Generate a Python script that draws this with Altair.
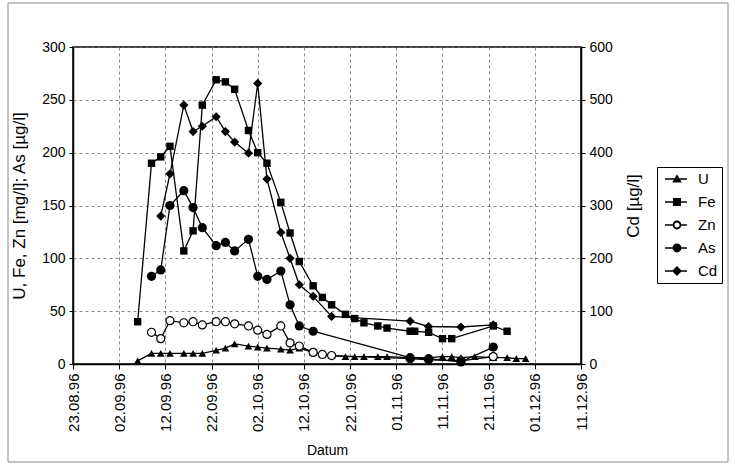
import altair as alt
import pandas as pd

series_names = ["U", "Fe", "Zn", "As", "Cd"]

u_dates = ["06.09.96", "09.09.96", "11.09.96", "13.09.96", "16.09.96", "18.09.96", "20.09.96",
           "23.09.96", "25.09.96", "27.09.96", "30.09.96", "02.10.96", "04.10.96", "07.10.96",
           "09.10.96", "11.10.96", "14.10.96", "16.10.96", "18.10.96", "21.10.96", "23.10.96",
           "25.10.96", "28.10.96", "30.10.96", "04.11.96", "08.11.96", "11.11.96", "13.11.96",
           "15.11.96", "18.11.96", "22.11.96", "25.11.96", "27.11.96", "29.11.96"]
u_values = [3, 10, 10, 10, 10, 10, 10, 13, 15, 19, 17, 16, 15, 14, 13, 15, 11, 9, 8, 7, 7,
            7, 7, 7, 6, 6, 7, 7, 6, 7, 6, 6, 5, 5]

fe_dates = ["06.09.96", "09.09.96", "11.09.96", "13.09.96", "16.09.96", "18.09.96", "20.09.96",
            "23.09.96", "25.09.96", "27.09.96", "30.09.96", "02.10.96", "04.10.96", "07.10.96",
            "09.10.96", "11.10.96", "14.10.96", "16.10.96", "18.10.96", "21.10.96", "23.10.96",
            "25.10.96", "28.10.96", "30.10.96", "04.11.96", "05.11.96", "08.11.96", "11.11.96",
            "13.11.96", "22.11.96", "25.11.96"]
fe_values = [40, 190, 196, 206, 107, 126, 245, 269, 267, 260, 221, 200, 190, 153, 124, 97, 74,
             63, 56, 47, 43, 39, 36, 34, 31, 31, 30, 24, 24, 36, 31]

zn_dates = ["09.09.96", "11.09.96", "13.09.96", "16.09.96", "18.09.96", "20.09.96", "23.09.96",
            "25.09.96", "27.09.96", "30.09.96", "02.10.96", "04.10.96", "07.10.96", "09.10.96",
            "11.10.96", "14.10.96", "16.10.96", "18.10.96", "04.11.96", "08.11.96", "15.11.96",
            "22.11.96"]
zn_values = [30, 24, 41, 39, 40, 37, 40, 40, 38, 36, 32, 28, 36, 20, 17, 11, 9, 8, 5, 4, 3, 7]

as_dates = ["09.09.96", "11.09.96", "13.09.96", "16.09.96", "18.09.96", "20.09.96", "23.09.96",
            "25.09.96", "27.09.96", "30.09.96", "02.10.96", "04.10.96", "07.10.96", "09.10.96",
            "11.10.96", "14.10.96", "04.11.96", "08.11.96", "15.11.96", "22.11.96"]
as_values = [83, 89, 150, 164, 148, 129, 112, 115, 107, 118, 83, 80, 88, 56, 36, 31, 6, 5, 2, 16]

cd_dates = ["11.09.96", "13.09.96", "16.09.96", "18.09.96", "20.09.96", "23.09.96", "25.09.96",
            "27.09.96", "30.09.96", "02.10.96", "04.10.96", "07.10.96", "09.10.96", "11.10.96",
            "14.10.96", "18.10.96", "04.11.96", "08.11.96", "15.11.96", "22.11.96"]
cd_values = [280, 360, 490, 440, 450, 468, 440, 420, 399, 531, 350, 249, 200, 150, 128, 90,
             81, 71, 70, 74]

x_ticks = ["23.08.96", "02.09.96", "12.09.96", "22.09.96", "02.10.96", "12.10.96", "22.10.96",
           "01.11.96", "11.11.96", "21.11.96", "01.12.96", "11.12.96"]
left_ticks = [0, 50, 100, 150, 200, 250, 300]
right_ticks = [0, 100, 200, 300, 400, 500, 600]


def iso(s):
    d, m, y = s.split(".")
    return f"19{y}-{m}-{d}"


def dt(s):
    d, m, y = s.split(".")
    return alt.DateTime(year=1900 + int(y), month=int(m), date=int(d), utc=True)


rows = []
for name, ds, vs in [("U", u_dates, u_values), ("Fe", fe_dates, fe_values),
                     ("Zn", zn_dates, zn_values), ("As", as_dates, as_values),
                     ("Cd", cd_dates, cd_values)]:
    for d, v in zip(ds, vs):
        rows.append({"series": name, "date": iso(d), "value": v})
df = pd.DataFrame(rows)

FONT = "Liberation Sans"

x_enc = alt.X(
    "date:T",
    scale=alt.Scale(type="utc", domain=[dt(x_ticks[0]), dt(x_ticks[-1])]),
    axis=alt.Axis(values=[dt(t) for t in x_ticks], format="%d.%m.%y", labelAngle=270,
                  title="Datum", grid=True, labelFontSize=15, titleFontSize=14,
                  tickSize=5, labelPadding=4, titlePadding=12, labelFlush=False,
                  labelOverlap=False),
)
y_left = alt.Y(
    "value:Q",
    scale=alt.Scale(domain=[0, 300], nice=False),
    axis=alt.Axis(values=left_ticks, title="U, Fe, Zn [mg/l]; As [µg/l]", grid=True,
                  labelFontSize=14, titleFontSize=17, tickSize=4, labelPadding=4,
                  titlePadding=13),
)
y_right = alt.Y(
    "value:Q",
    scale=alt.Scale(domain=[0, 600], nice=False),
    axis=alt.Axis(values=right_ticks, orient="right", title="Cd [µg/l]", grid=False,
                  titleAngle=270, labelFontSize=14, titleFontSize=17, tickSize=4,
                  labelPadding=4, titlePadding=30),
)

base = alt.Chart(df)

left_series = ["U", "Fe", "Zn", "As"]
left_lines = base.transform_filter(
    alt.FieldOneOfPredicate(field="series", oneOf=left_series)
).mark_line(color="black", strokeWidth=1.3).encode(x=x_enc, y=y_left, detail="series:N")

marker_style = {
    "U": dict(shape="triangle-up", filled=True, color="black", size=60),
    "Fe": dict(shape="square", filled=True, color="black", size=55),
    "Zn": dict(shape="circle", filled=False, fill="white", stroke="black", strokeWidth=1.2, size=65),
    "As": dict(shape="circle", filled=True, color="black", size=85),
    "Cd": dict(shape="diamond", filled=True, color="black", size=85),
}

left_points = [
    base.transform_filter(alt.datum.series == s).mark_point(opacity=1, **marker_style[s]).encode(
        x=x_enc, y=y_left)
    for s in left_series
]

legend_paths = [
    "M-0.5,-0.08H2.25V0.08H-0.5Z M1,-0.6L1.6,0.45H0.4Z",
    "M-0.5,-0.08H2.25V0.08H-0.5Z M0.5,-0.5H1.5V0.5H0.5Z",
    "M-0.5,-0.08H0.45V0.08H-0.5Z M1.55,-0.08H2.25V0.08H1.55Z "
    "M0.45,0A0.55,0.55 0 1,1 1.55,0A0.55,0.55 0 1,1 0.45,0Z "
    "M0.68,0A0.32,0.32 0 1,0 1.32,0A0.32,0.32 0 1,0 0.68,0Z",
    "M-0.5,-0.08H2.25V0.08H-0.5Z M0.45,0A0.55,0.55 0 1,1 1.55,0A0.55,0.55 0 1,1 0.45,0Z",
    "M-0.5,-0.08H2.25V0.08H-0.5Z M1,-0.62L1.62,0L1,0.62L0.38,0Z",
]

legend_layer = base.transform_filter("false").mark_point(
    filled=True, color="black", opacity=1
).encode(
    shape=alt.Shape(
        "series:N",
        scale=alt.Scale(domain=series_names, range=legend_paths),
        legend=alt.Legend(title=None, orient="none", legendX=584, legendY=120,
                          symbolSize=256, symbolFillColor="black", symbolStrokeWidth=0,
                          labelFontSize=15, labelOffset=21, rowPadding=7, padding=4,
                          strokeColor="black", labelFont=FONT, labelColor="black"),
    )
)

left_group = alt.layer(left_lines, *left_points, legend_layer)

cd_base = base.transform_filter(alt.datum.series == "Cd")
right_group = alt.layer(
    cd_base.mark_line(color="black", strokeWidth=1.3).encode(x=x_enc, y=y_right),
    cd_base.mark_point(opacity=1, **marker_style["Cd"]).encode(x=x_enc, y=y_right),
)

frame = alt.Chart(pd.DataFrame({"frame": [0]})).mark_rect(
    fill="transparent", stroke="#888", strokeWidth=1
).encode(x=alt.value(-65), x2=alt.value(655), y=alt.value(-44), y2=alt.value(415))

chart = alt.layer(frame, left_group, right_group).resolve_scale(y="independent").properties(
    width=508, height=317, autosize="none",
    padding={"left": 73, "top": 47, "right": 154, "bottom": 107},
    background="white",
).configure_axis(
    labelFont=FONT, titleFont=FONT, labelColor="black", titleColor="black",
    domainColor="black", domainWidth=1.5, tickColor="black", gridColor="#666",
    gridDash=[3, 3], gridWidth=0.8, titleFontWeight="normal",
).configure_view(stroke="black", strokeWidth=1.5)

chart.save("out.html", embed_options={"renderer": "svg", "actions": False})
